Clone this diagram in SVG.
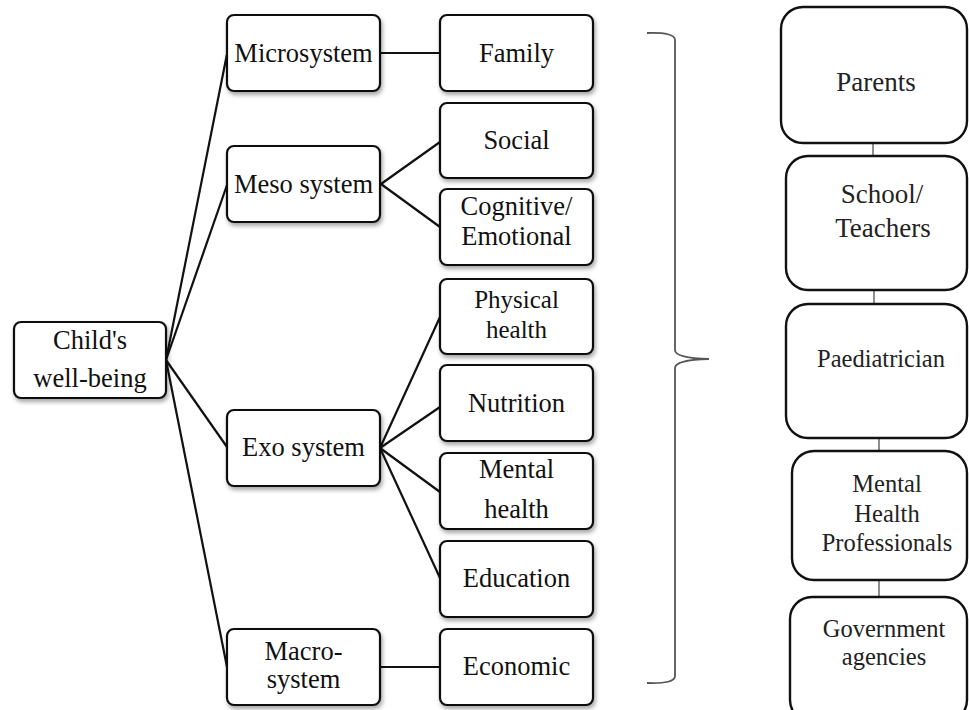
<svg xmlns="http://www.w3.org/2000/svg" width="969" height="710" viewBox="0 0 969 710">
<defs>
<filter id="sh" x="-10%" y="-10%" width="130%" height="140%">
<feDropShadow dx="1.5" dy="3" stdDeviation="2.2" flood-color="#000" flood-opacity="0.35"/>
</filter>
<style>
.b{fill:#fff;stroke:#111;stroke-width:2.2;filter:url(#sh)}
.r{fill:#fff;stroke:#111;stroke-width:2.4}
.t{font-size:26.5px;fill:#111;text-anchor:middle}
.ts{font-size:25px;fill:#111;text-anchor:middle}
.tr{font-size:24.5px;fill:#222;text-anchor:middle}
.tb{font-size:27px;fill:#222;text-anchor:middle}
.c{fill:none;stroke:#111;stroke-width:2.2}
.g{fill:none;stroke:#444;stroke-width:1.2}
.br{fill:none;stroke:#555;stroke-width:1.8}
</style>
</defs>
<rect width="969" height="710" fill="#fff"/>
<g id="connectors">
<line class="c" x1="166" y1="360" x2="227" y2="54"/>
<line class="c" x1="166" y1="360" x2="227" y2="185"/>
<line class="c" x1="166" y1="360" x2="227" y2="447"/>
<line class="c" x1="166" y1="360" x2="227" y2="667"/>
<line class="c" x1="380" y1="53" x2="440" y2="53"/>
<line class="c" x1="381" y1="184" x2="440" y2="142"/>
<line class="c" x1="381" y1="184" x2="440" y2="227"/>
<line class="c" x1="380" y1="448" x2="440" y2="317"/>
<line class="c" x1="380" y1="448" x2="440" y2="407"/>
<line class="c" x1="380" y1="448" x2="440" y2="492"/>
<line class="c" x1="380" y1="448" x2="440" y2="578"/>
<line class="c" x1="380" y1="667" x2="440" y2="667"/>
<line class="g" x1="873" y1="143" x2="873" y2="156"/>
<line class="g" x1="874" y1="290" x2="874" y2="304"/>
<line class="g" x1="879" y1="438" x2="879" y2="451"/>
<line class="g" x1="879" y1="580" x2="879" y2="597"/>
<path class="br" d="M647,33 Q675,32 675,40 L675,350 Q675,358 709,359 Q675,360 675,368 L675,676 Q675,684 647,683"/>
</g>
<g font-family="'Liberation Serif', 'Times New Roman', serif">
<g id="n-child"><rect class="b" x="14" y="322" width="152" height="76" rx="7"/><text class="t" x="90" y="349">Child's</text><text class="t" x="90" y="387">well-being</text></g>
<g id="n-micro"><rect class="b" x="227" y="15" width="153" height="76" rx="7"/><text class="t" x="303.5" y="62">Microsystem</text></g>
<g id="n-meso"><rect class="b" x="227" y="146" width="153" height="76" rx="7"/><text class="t" x="303.5" y="193">Meso system</text></g>
<g id="n-exo"><rect class="b" x="227" y="410" width="153" height="76" rx="7"/><text class="t" x="303.5" y="456">Exo system</text></g>
<g id="n-macro"><rect class="b" x="227" y="629" width="153" height="76" rx="7"/><text class="t" x="303.5" y="660">Macro-</text><text class="t" x="303.5" y="688">system</text></g>
<g id="n-family"><rect class="b" x="440" y="15" width="153" height="76" rx="7"/><text class="t" x="516.5" y="62">Family</text></g>
<g id="n-social"><rect class="b" x="440" y="103" width="153" height="75" rx="7"/><text class="t" x="516.5" y="149">Social</text></g>
<g id="n-cog"><rect class="b" x="440" y="189" width="153" height="76" rx="7"/><text class="t" x="516.5" y="215">Cognitive/</text><text class="t" x="516.5" y="245">Emotional</text></g>
<g id="n-phys"><rect class="b" x="440" y="279" width="153" height="75" rx="7"/><text class="ts" x="516.5" y="308">Physical</text><text class="ts" x="516.5" y="338">health</text></g>
<g id="n-nutr"><rect class="b" x="440" y="365" width="153" height="76" rx="7"/><text class="t" x="516.5" y="412">Nutrition</text></g>
<g id="n-mental"><rect class="b" x="440" y="453" width="153" height="76" rx="7"/><text class="t" x="516.5" y="478">Mental</text><text class="t" x="516.5" y="518">health</text></g>
<g id="n-edu"><rect class="b" x="440" y="541" width="153" height="76" rx="7"/><text class="t" x="516.5" y="587">Education</text></g>
<g id="n-econ"><rect class="b" x="440" y="629" width="153" height="76" rx="7"/><text class="t" x="516.5" y="675">Economic</text></g>
<g id="n-parents"><rect class="r" x="781" y="7" width="186" height="136" rx="22"/><text class="tb" x="876" y="91">Parents</text></g>
<g id="n-school"><rect class="r" x="786" y="156" width="181" height="134" rx="22"/><text class="tb" x="882" y="203">School/</text><text class="tb" x="883" y="237">Teachers</text></g>
<g id="n-paed"><rect class="r" x="786" y="304" width="181" height="134" rx="22"/><text class="tr" x="881" y="367">Paediatrician</text></g>
<g id="n-mhp"><rect class="r" x="792" y="451" width="175" height="129" rx="22"/><text class="tr" x="887" y="492">Mental</text><text class="tr" x="887" y="522">Health</text><text class="tr" x="887" y="551">Professionals</text></g>
<g id="n-gov"><rect class="r" x="790" y="597" width="177" height="125" rx="22"/><text class="tr" x="884" y="637">Government</text><text class="tr" x="884" y="665">agencies</text></g>
</g>
</svg>
